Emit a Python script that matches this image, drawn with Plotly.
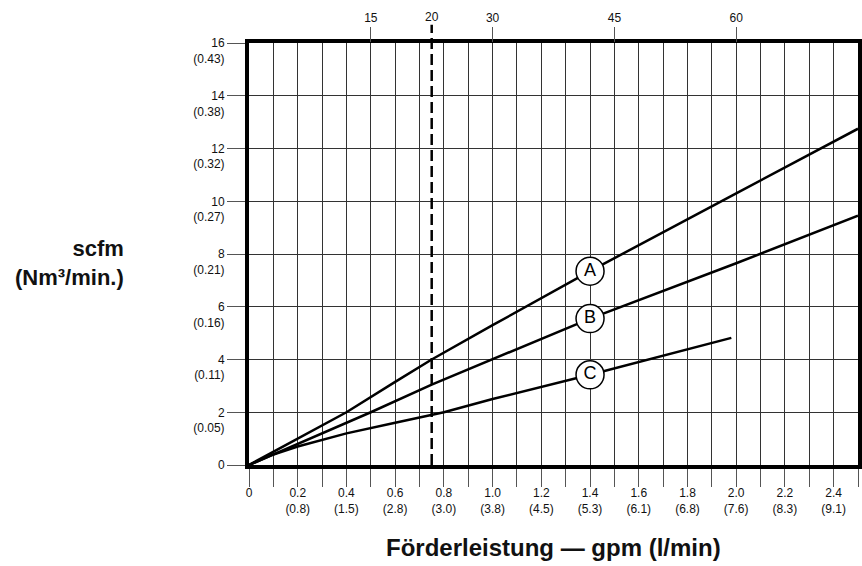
import numpy as np
import plotly.graph_objects as go

# flow in gpm, air in scfm
curve_a_x = [0, 0.1, 0.2, 0.4, 0.6, 0.75, 1.0, 1.4, 2.0, 2.5]
curve_a_y = [0, 0.5, 1.0, 2.0, 3.15, 4.0, 5.3, 7.35, 10.3, 12.75]
curve_b_x = [0, 0.1, 0.2, 0.5, 0.75, 1.0, 1.4, 2.0, 2.5]
curve_b_y = [0, 0.4, 0.8, 2.0, 3.05, 4.0, 5.55, 7.65, 9.45]
curve_c_x = [0, 0.1, 0.2, 0.4, 0.6, 0.8, 1.0, 1.4, 1.98]
curve_c_y = [0, 0.4, 0.7, 1.2, 1.6, 2.0, 2.5, 3.42, 4.82]
curve_names = ['A', 'B', 'C']
label_x = 1.4
ref_flow = 0.75

x_ticks = [round(i * 0.1, 1) for i in range(26)]
x_main = ['0', '0.2', '0.4', '0.6', '0.8', '1.0', '1.2', '1.4', '1.6', '1.8', '2.0', '2.2', '2.4']
x_metric = ['', '(0.8)', '(1.5)', '(2.8)', '(3.0)', '(3.8)', '(4.5)', '(5.3)', '(6.1)', '(6.8)', '(7.6)', '(8.3)', '(9.1)']
y_ticks = [0, 2, 4, 6, 8, 10, 12, 14, 16]
y_metric = ['', '(0.05)', '(0.11)', '(0.16)', '(0.21)', '(0.27)', '(0.32)', '(0.38)', '(0.43)']
top_ticks = [0.5, 1.0, 1.5, 2.0]
top_text = ['15', '30', '45', '60']
top_ref_text = '20'

FONT = 'Liberation Sans, Arial, sans-serif'

x_text = []
for v in x_ticks:
    k = int(round(v * 10))
    if k % 2 == 0:
        i = k // 2
        x_text.append(x_main[i] + ('<br>' + x_metric[i] if x_metric[i] else ''))
    else:
        x_text.append('')
y_text = [str(v) + '<br>' + (m if m else ' ') for v, m in zip(y_ticks, y_metric)]

fig = go.Figure()
curves = [(curve_a_x, curve_a_y), (curve_b_x, curve_b_y), (curve_c_x, curve_c_y)]
for xs, ys in curves:
    fig.add_trace(go.Scatter(x=xs, y=ys, mode='lines', line=dict(color='black', width=2.5),
                             hoverinfo='none', showlegend=False))

lab_y = [float(np.interp(label_x, xs, ys)) for xs, ys in curves]
fig.add_trace(go.Scatter(
    x=[label_x] * 3, y=lab_y, mode='markers+text', text=curve_names,
    textposition='middle center', textfont=dict(family=FONT, size=18, color='black'),
    marker=dict(size=28, color='white', line=dict(color='black', width=1.5)),
    hoverinfo='none', showlegend=False, cliponaxis=False,
))

# invisible trace to anchor the top axis
fig.add_trace(go.Scatter(x=[0, 2.5], y=[0, 0], xaxis='x2', mode='lines',
                         line=dict(width=0), hoverinfo='none', showlegend=False))

fig.add_shape(type='line', xref='x', yref='paper', x0=ref_flow, x1=ref_flow, y0=0, y1=1.043,
              line=dict(color='black', width=2.5, dash='11px,5px'), layer='above')

fig.add_annotation(x=ref_flow, xref='x', y=1, yref='paper', yshift=26, text=top_ref_text,
                   showarrow=False, yanchor='middle', font=dict(family=FONT, size=12, color='#111'))
fig.add_annotation(x=-0.202, xref='paper', y=0.478, yref='paper', xanchor='right', align='right',
                   yanchor='middle', text='<b>scfm<br>(Nm³/min.)</b>', showarrow=False,
                   font=dict(family=FONT, size=22, color='#111'))
fig.add_annotation(x=0.5, xref='paper', y=-0.196, yref='paper', xanchor='center', yanchor='middle',
                   text='<b>Förderleistung — gpm (l/min)</b>', showarrow=False,
                   font=dict(family=FONT, size=24, color='#111'))

fig.update_layout(
    width=862, height=566,
    margin=dict(l=249, r=0, t=43, b=101),
    plot_bgcolor='white', paper_bgcolor='white',
    font=dict(family=FONT, size=12, color='#111'),
    xaxis=dict(range=[0, 2.5], tickvals=x_ticks, ticktext=x_text, ticks='outside', ticklen=18,
               tickcolor='#555', showgrid=True, gridcolor='#333', gridwidth=1, zeroline=False,
               showline=True, linecolor='black', linewidth=4, mirror=True, ticklabelstandoff=-4),
    xaxis2=dict(range=[0, 2.5], overlaying='x', side='top', tickvals=top_ticks, ticktext=top_text,
                ticks='outside', ticklen=15, tickcolor='#555', showgrid=False, zeroline=False,
                showline=False),
    yaxis=dict(range=[0, 16], tickvals=y_ticks, ticktext=y_text, ticks='outside', ticklen=18,
               tickcolor='#555', showgrid=True, gridcolor='#333', gridwidth=1, zeroline=False,
               showline=True, linecolor='black', linewidth=4, mirror=True, ticklabelshift=8),
)

fig.write_html('out.html', config={'displayModeBar': False},
               post_script="document.body.style.margin='0';")
